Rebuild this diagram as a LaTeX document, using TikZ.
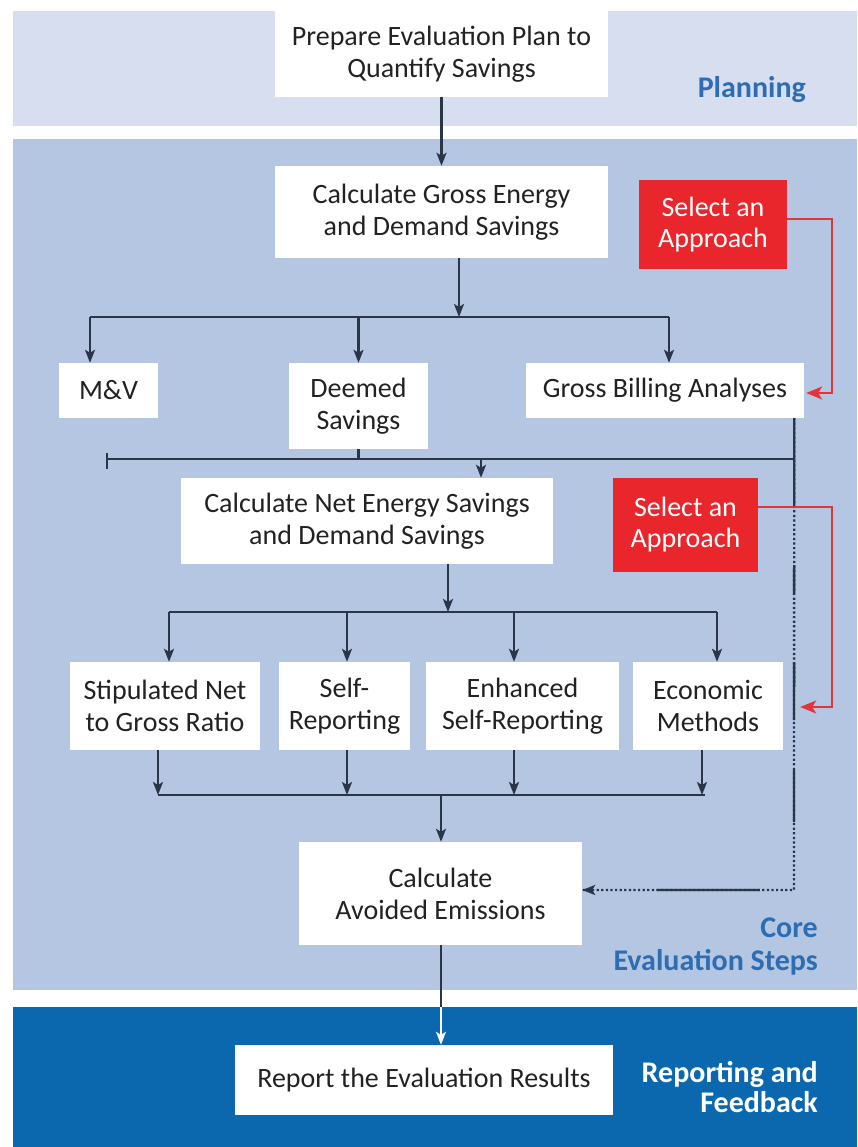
\documentclass[tikz,border=0pt]{standalone}
\usepackage{fontspec}
\setmainfont{Carlito}
\usetikzlibrary{arrows.meta,calc}
\definecolor{planbg}{HTML}{D6DEEF}
\definecolor{corebg}{HTML}{B4C6E2}
\definecolor{repbg}{HTML}{0B68AE}
\definecolor{selred}{HTML}{E8262B}
\definecolor{lbl}{HTML}{2D6DB4}
\definecolor{ln}{HTML}{2A3548}
\definecolor{redln}{HTML}{E0353A}
\definecolor{txt}{HTML}{222222}
\begin{document}
\begin{tikzpicture}[x=1pt,y=-1pt,
  box/.style={fill=white, inner sep=0pt, align=center, text=txt,
    font=\fontsize{28}{32}\selectfont},
  selbox/.style={fill=selred, inner sep=0pt, align=center, text=white,
    font=\fontsize{28}{31}\selectfont, minimum width=146pt, minimum height=90pt},
  conn/.style={draw=ln, line width=2.3pt},
  arr/.style={conn, -{Stealth[length=13pt,width=10pt,inset=3pt]}},
  redarr/.style={draw=redln, line width=1.6pt, -{Stealth[length=16pt,width=13pt,inset=4pt]}},
  lab/.style={inner sep=0pt, align=right, text=lbl, anchor=east,
    font=\fontsize{30}{33}\selectfont\bfseries}
]
\useasboundingbox (0,0) rectangle (857,1147);
% bands
\fill[planbg] (13,11) rectangle (857,126);
\fill[corebg] (13,139) rectangle (857,990);
\fill[repbg] (13,1007) rectangle (857,1147);

% nodes
\node[box, minimum width=333pt, minimum height=86pt] (prep) at (441.5,54) {Prepare Evaluation Plan to\\Quantify Savings};
\node[box, minimum width=333pt, minimum height=92pt] (gross) at (441.5,212) {Calculate Gross Energy\\and Demand Savings};
\node[selbox, minimum width=148pt, minimum height=89pt] (sel1) at (713,224.5) {Select an\\Approach};
\node[box, minimum width=99pt, minimum height=55pt] (mv) at (108.5,390.5) {M\&V};
\node[box, minimum width=139pt, minimum height=86pt] (deemed) at (358.5,406) {Deemed\\Savings};
\node[box, minimum width=278pt, minimum height=55pt] (gb) at (665,390.5) {Gross Billing Analyses};
\node[box, minimum width=372pt, minimum height=86pt] (net) at (367,521) {Calculate Net Energy Savings\\and Demand Savings};
\node[selbox, minimum width=145pt, minimum height=94pt] (sel2) at (685.5,525) {Select an\\Approach};
\node[box, minimum width=190pt, minimum height=88pt] (stip) at (165,706) {Stipulated Net\\to Gross Ratio};
\node[box, minimum width=131pt, minimum height=88pt] (self) at (344.5,706) {Self-\\Reporting};
\node[box, minimum width=193pt, minimum height=88pt] (enh) at (522.5,706) {Enhanced\\Self-Reporting};
\node[box, minimum width=150pt, minimum height=88pt] (eco) at (708,706) {Economic\\Methods};
\node[box, minimum width=283pt, minimum height=103pt] (avoid) at (440.5,893.5) {Calculate\\Avoided Emissions};
\node[box, minimum width=378pt, minimum height=70pt] (report) at (424,1080) {Report the Evaluation Results};

% labels
\node[lab] (planlab) at (806,90) {Planning};
\node[lab] (corelab) at (818,946.5) {Core\\Evaluation Steps};
\node[lab, text=white, font=\fontsize{30}{30}\selectfont\bfseries] (replab) at (818,1087) {Reporting and\\Feedback};

% planning -> gross
\draw[arr] (prep.south) -- (gross.north);

% gross -> branch
\coordinate (j1) at (459,317);
\coordinate (b1l) at (90,317);
\coordinate (b1r) at (669,317);
\draw[arr] (gross.south -| j1) -- (j1);
\draw[conn] (b1l) -- (b1r);
\draw[arr] (b1l) -- (b1l |- mv.north);
\draw[arr] (deemed.north |- b1l) -- (deemed.north);
\draw[arr] (b1r) -- (b1r |- gb.north);

% collector
\coordinate (c1l) at (107,459);
\coordinate (c1r) at (794,459);
\coordinate (c1a) at (481,459);
\draw[conn] (c1l) -- (c1r);
\draw[conn] ($(c1l)+(0,-6)$) -- ($(c1l)+(0,10)$);
\draw[conn] (deemed.south) -- (deemed.south |- c1l);
\draw[arr] (c1a) -- (c1a |- net.north);

% net -> branch
\coordinate (j2) at (448,612);
\coordinate (b2a) at (169,612);
\coordinate (b2b) at (347,612);
\coordinate (b2c) at (514,612);
\coordinate (b2d) at (717,612);
\draw[arr] (net.south -| j2) -- (j2);
\draw[conn] (b2a) -- (b2d);
\draw[arr] (b2a) -- (b2a |- stip.north);
\draw[arr] (b2b) -- (b2b |- self.north);
\draw[arr] (b2c) -- (b2c |- enh.north);
\draw[arr] (b2d) -- (b2d |- eco.north);

% collector 2
\coordinate (c2a) at (158,795);
\coordinate (c2b) at (347,795);
\coordinate (c2c) at (514,795);
\coordinate (c2d) at (702,795);
\coordinate (c2e) at (705,795);
\coordinate (c2m) at (441,795);
\draw[arr] (c2a |- stip.south) -- (c2a);
\draw[arr] (c2b |- self.south) -- (c2b);
\draw[arr] (c2c |- enh.south) -- (c2c);
\draw[arr] (c2d |- eco.south) -- (c2d);
\draw[conn] (c2a) -- (c2e);
\draw[arr] (c2m) -- (c2m |- avoid.north);

% avoided -> report
\coordinate (bandtop) at (441,1007);
\draw[conn] (bandtop |- avoid.south) -- (bandtop);
\draw[draw=white, line width=2.3pt, -{Stealth[length=13pt,width=10pt,inset=3pt]}] (bandtop) -- (bandtop |- report.north);

% return path from gross billing to avoided emissions
\coordinate (gbx) at ($(gb.south east)+(-10,0)$);
\coordinate (ret) at (794,890);
\draw[draw=ln, line width=2.3pt, dash pattern=on 2.2pt off 2.4pt] (gbx) -- (ret) -- (ret -| avoid.east);
\draw[draw=ln, line width=2.3pt, dash pattern=on 90pt off 57pt on 28pt off 70pt on 57pt off 50pt on 52pt off 102pt on 103pt off 300pt,
  -{Stealth[length=13pt,width=10pt,inset=3pt]}] (gbx) -- (ret) -- (ret -| avoid.east);

% red approach connectors
\coordinate (r1a) at (832,219);
\coordinate (r1b) at (832,393);
\draw[redarr] ($(sel1.east)+(0,-5.5)$) -- (r1a) -- (r1b) -- ($(gb.east)+(2,2.5)$);
\coordinate (r2a) at (832,507);
\coordinate (r2b) at (832,707);
\draw[redarr] ($(sel2.east)+(0,-18)$) -- (r2a) -- (r2b) -- ($(eco.east)+(17,1)$);
\end{tikzpicture}
\end{document}
